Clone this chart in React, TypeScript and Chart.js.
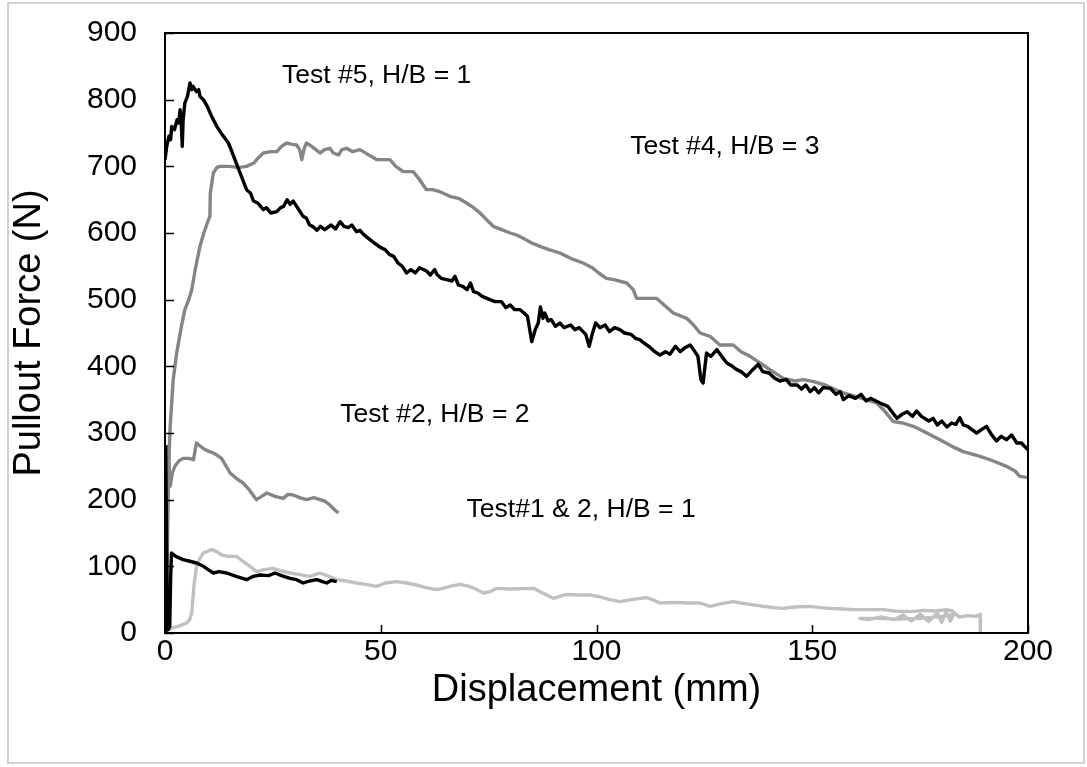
import { useEffect, useRef } from 'react';
import { Chart, registerables } from 'chart.js';

Chart.register(...registerables);

const xTickValues = [0, 50, 100, 150, 200];
const yTickValues = [0, 100, 200, 300, 400, 500, 600, 700, 800, 900];

// Test #5, H/B = 1 (black)
const test5: [number, number][] = [
  [0, 710], [0.4, 730], [0.9, 745], [1.3, 740], [1.55, 760], [2.2, 755], [2.8, 770], [3.2, 765], [3.5, 785], [3.8, 760], [4.0, 730], [4.2, 770],
  [4.6, 795], [5.2, 805], [5.8, 825], [6.2, 815], [6.5, 820], [7.3, 812], [7.8, 815], [8.1, 805], [8.9, 800], [9.8, 790], [10.8, 775], [12, 760],
  [13.2, 748], [14.7, 735], [15.5, 722], [16.2, 710], [17.4, 690], [18.9, 665], [19.8, 660], [20.5, 648], [21.5, 645], [22.8, 635], [23.5, 638], [24.5, 630], [25.9, 632], [26.8, 638], [27.5, 640],
  [28.3, 650], [29, 643], [29.7, 648], [30.5, 640], [31.2, 633], [32, 625], [32.8, 622], [33.5, 612], [34.2, 610], [35.2, 604], [36, 610], [37, 605], [38.5, 612], [39.5, 606], [40.6, 617], [41.5, 610], [42.5, 608], [43.3, 612], [44.4, 602],
  [45.2, 604], [46, 598], [47.5, 590], [48.5, 585], [50, 578], [51, 575], [52, 568], [53, 565], [54, 555], [55, 550], [56, 540], [57, 545], [58, 540], [59, 548], [60.6, 543], [61.5, 537], [62.5, 545], [63, 538], [64, 532], [65.3, 530],
  [66.5, 528], [67.2, 535], [68, 522], [69, 520], [70, 515], [70.8, 525], [71.5, 512], [72.5, 510], [73.5, 505], [75.3, 500], [76.5, 497], [78, 497], [79, 488], [80, 492], [81, 485], [82.3, 485], [83.2, 480], [84, 475], [85, 437], [85.8, 455],
  [86.5, 465], [87, 489], [87.6, 472], [88, 480], [88.8, 468], [89.5, 470], [90.5, 460], [91.5, 465], [92.5, 458], [94, 462], [95, 455], [96, 458], [97.5, 448], [98.3, 430], [99, 448], [99.8, 465], [100.8, 458],
  [102, 462], [103, 452], [104.2, 458], [105.4, 455], [106.5, 450], [108, 448], [109, 442], [110, 440], [111, 435], [112.5, 428], [113.5, 422], [114.7, 417], [116, 422], [117, 418], [118.3, 430], [119.4, 422], [120.5, 428], [121.7, 432], [122.5, 425], [123.5, 415],
  [124.2, 380], [124.7, 375], [125.5, 420], [126.5, 415], [127.9, 425], [129, 415], [130.2, 405], [131.5, 400], [132.5, 395], [133.5, 392], [134.8, 385], [136.2, 395], [137.5, 403], [138.5, 392], [140, 390], [141.3, 382], [142.5, 378],
  [144, 380], [145, 372], [146.5, 372], [147.5, 366], [148.5, 372], [149.5, 362], [150.5, 368], [151.5, 360], [152.5, 368], [154.2, 367], [155.5, 358], [156.5, 362], [157.2, 350], [158.5, 356], [160, 352], [161.3, 358], [162.5, 348], [163.5, 352], [165.7, 345], [167.5, 340], [169.6, 322],
  [170.8, 328], [172, 332], [173.2, 325], [174.2, 333], [175.3, 325], [177, 318], [178, 322], [179, 312], [180, 318], [181.2, 309], [182.3, 315], [183.3, 313], [184.2, 323], [185, 312], [186, 310], [187, 305], [188.1, 300], [189.2, 305], [190.4, 310], [191.5, 298], [192.7, 288],
  [193.8, 295], [195, 290], [196.2, 297], [197.4, 285], [198.5, 285], [199.2, 280], [200, 275],
];

// Test #4, H/B = 3 (medium grey)
const test4: [number, number][] = [
  [0.4, 0], [0.6, 150], [0.9, 260], [1.2, 310], [1.6, 350], [1.9, 380], [2.7, 420], [3.8, 460], [4.6, 485], [5.5, 500],
  [6.2, 515], [7, 545], [8.1, 580], [9.0, 600], [9.8, 615], [10.4, 625], [10.5, 660], [11.2, 690], [12, 698], [12.7, 700],
  [15, 700], [17, 698], [18.9, 700], [20.6, 705], [21.5, 712], [22.8, 720], [24.5, 722], [25.9, 722], [27, 730], [28.2, 735],
  [29.5, 733], [30.5, 732], [31.2, 725], [31.7, 710], [32.3, 728], [32.8, 735], [34, 730], [35.9, 720], [37, 725], [38.2, 727],
  [39, 720], [40.2, 717], [41, 725], [42.1, 727], [43.5, 722], [45.2, 725], [47, 718], [49.1, 710], [52.1, 710], [53.5, 700],
  [55.2, 692], [57.5, 692], [59, 680], [60.6, 665], [62, 665], [63.7, 662], [66, 655], [68, 652], [69.9, 645], [71.5, 638],
  [73, 630], [74.5, 620], [76.1, 610], [78, 605], [80, 600], [81.5, 597], [83, 592], [85, 585], [86.9, 580], [89, 575],
  [91.5, 570], [94, 562], [96.9, 555], [99, 548], [100.5, 540], [102.3, 532], [104, 530], [107, 525], [108.5, 515], [109.3, 502],
  [113.9, 502], [116, 490], [117.8, 480], [120.9, 472], [122.5, 462], [124, 450], [126.3, 445], [128.6, 432], [131.7, 432], [133.5, 422],
  [135.6, 415], [137.9, 405], [140.2, 395], [143.3, 382], [146, 378], [148, 380], [150.3, 377], [153, 372], [157.2, 360], [160, 355],
  [162.5, 350], [164.9, 345], [166.5, 335], [168.8, 317], [171, 315], [173.4, 310], [176, 302], [178, 295], [181, 285], [183, 278],
  [185, 272], [188.9, 265], [192, 258], [195, 250], [197, 243], [198.1, 235], [200, 233],
];

// Test #2, H/B = 2 (medium grey)
const test2hb2: [number, number][] = [
  [0.2, 0], [0.35, 150], [0.5, 270], [0.8, 280], [1.0, 240], [1.2, 220], [1.7, 240], [2.3, 250], [3.2, 258], [4.2, 262],
  [5.5, 262], [6.6, 260], [7.0, 275], [7.3, 285], [8.2, 280], [9.3, 275], [10.3, 272], [11.2, 270], [12.2, 266], [13.1, 262],
  [14, 252], [15.1, 240], [16.5, 232], [18.1, 225], [19.5, 215], [21.2, 200], [22.4, 205], [23.6, 210], [25.5, 205], [27.4, 202],
  [28.5, 208], [29.7, 207], [31.2, 203], [32.8, 200], [34.5, 203], [35.9, 200], [37, 198], [38.2, 192], [39.3, 185], [40.2, 180],
];

// Test #1, H/B = 1 (black, short)
const test1hb1: [number, number][] = [
  [0, 0], [0.1, 200], [0.2, 280], [0.35, 150], [0.5, 40], [0.8, 5], [1.1, 10], [1.3, 80], [1.5, 120], [2.5, 115],
  [4.2, 110], [5.5, 108], [7.3, 105], [8.9, 100], [10, 95], [11.2, 90], [12.5, 92], [14.3, 90], [16.5, 85], [18.9, 80],
  [20.5, 85], [22, 87], [24, 86], [25.5, 90], [27, 86], [29, 82], [30.5, 80], [32, 75], [33.5, 78], [35.2, 80],
  [36.5, 77], [37.5, 75], [38.5, 79], [39.8, 77],
];

// Test #2, H/B = 1 (light grey, long)
const test2hb1: [number, number][] = [
  [1.2, 7], [3, 10], [5, 15], [5.7, 20], [6.2, 30], [6.7, 70], [7.3, 100], [8.1, 112], [8.9, 120], [10.8, 125],
  [12, 122], [13.1, 117], [14.8, 115], [16.6, 115], [18, 108], [19.7, 100], [21.2, 92], [23, 95], [25.1, 97], [27, 93],
  [29, 90], [31, 88], [33.6, 85], [35.9, 90], [38, 85], [39.8, 80], [42, 78], [44.4, 75], [46.5, 73], [49.1, 70],
  [51, 75], [53.7, 77], [56, 75], [58.3, 72], [60.5, 68], [63, 65], [65, 68], [66, 70], [68.4, 73], [70.5, 70],
  [72, 66], [73.8, 60], [75.3, 62], [76.9, 67], [80, 66], [85.4, 67], [87.5, 60], [90, 52], [91.5, 55], [93.1, 58],
  [96, 57], [98.5, 57], [101, 54], [103, 50], [105.4, 47], [108, 50], [111.6, 53], [113, 50], [114.7, 45], [118, 46],
  [121, 45], [124, 45], [126.3, 40], [129, 44], [131.7, 47], [133.5, 45], [135.6, 43], [138.7, 40], [141, 38], [143.3, 37],
  [146, 39], [149.5, 40], [152, 38], [154.1, 37], [157, 36], [159.5, 35], [163, 35], [166.5, 35], [169, 33], [172.6, 32],
  [176, 34], [178.5, 33], [181.1, 35], [182.5, 33], [183, 28], [180, 25], [175, 22], [170, 21], [165, 22], [161, 22],
  [163, 20], [166, 24], [169, 20], [171, 27], [173, 18], [175, 28], [177, 17], [179, 30], [180, 16], [181, 32],
  [182, 18], [183, 30], [184, 24], [186, 26], [188, 25], [188.9, 28], [188.9, 12], [189, 0],
];

const seriesList = [
  { name: 'Test #5, H/B = 1', points: test5, color: '#000000' },
  { name: 'Test #1, H/B = 1', points: test1hb1, color: '#000000' },
  { name: 'Test #2, H/B = 1', points: test2hb1, color: '#c0c0c0' },
  { name: 'Test #4, H/B = 3', points: test4, color: '#858585' },
  { name: 'Test #2, H/B = 2', points: test2hb2, color: '#858585' },
];

const annotationTexts = ['Test #5, H/B = 1', 'Test #4, H/B = 3', 'Test #2, H/B = 2', 'Test#1 & 2, H/B = 1'];
const annotationAnchors: [number, number][] = [[27.1, 836], [107.8, 729], [40.6, 327], [69.9, 185]];

const FONT = "'Liberation Sans', Arial, sans-serif";

export default function App() {
  const ref = useRef<HTMLCanvasElement>(null);

  useEffect(() => {
    const canvas = ref.current;
    if (!canvas) return;

    const framePlugin = {
      id: 'framePlugin',
      beforeDraw(chart: any) {
        const c = chart.ctx;
        c.save();
        c.fillStyle = '#ffffff';
        c.fillRect(0, 0, chart.width, chart.height);
        c.strokeStyle = '#d0d0d0';
        c.lineWidth = 2;
        c.strokeRect(8, 3, 1076, 760);
        c.restore();
      },
      afterDatasetsDraw(chart: any) {
        const c = chart.ctx;
        const { left, top, right, bottom } = chart.chartArea;
        const xs = chart.scales.x;
        const ys = chart.scales.y;
        c.save();
        c.strokeStyle = '#000000';
        c.lineWidth = 2;
        c.strokeRect(left, top, right - left, bottom - top);
        c.lineWidth = 1.5;
        c.beginPath();
        yTickValues.forEach((v) => {
          const py = Math.round(ys.getPixelForValue(v)) + 0.5;
          c.moveTo(left, py);
          c.lineTo(left + 9, py);
        });
        xTickValues.forEach((v) => {
          const px = Math.round(xs.getPixelForValue(v)) + 0.5;
          c.moveTo(px, bottom);
          c.lineTo(px, bottom - 8);
        });
        c.stroke();
        c.fillStyle = '#000000';
        c.font = `26.5px ${FONT}`;
        c.textAlign = 'left';
        c.textBaseline = 'middle';
        annotationTexts.forEach((t, i) => {
          const [ax, ay] = annotationAnchors[i];
          c.fillText(t, xs.getPixelForValue(ax), ys.getPixelForValue(ay));
        });
        c.restore();
      },
    };

    const chart = new Chart(canvas, {
      type: 'scatter',
      data: {
        datasets: seriesList.map((s) => ({
          label: s.name,
          data: s.points.map(([x, y]) => ({ x, y })),
          showLine: true,
          borderColor: s.color,
          backgroundColor: s.color,
          borderWidth: 3.4,
          borderJoinStyle: 'round' as const,
          pointRadius: 0,
          pointHoverRadius: 0,
          tension: 0,
          fill: false,
        })),
      },
      options: {
        animation: false,
        responsive: false,
        layout: { padding: { left: 0, top: 33, right: 59, bottom: 0 } },
        plugins: {
          legend: { display: false },
          tooltip: { enabled: false },
        },
        scales: {
          x: {
            type: 'linear',
            min: 0,
            max: 200,
            afterFit: (s: any) => { s.height = 134; s.paddingLeft = 0; s.paddingRight = 0; },
            afterBuildTicks: (s: any) => { s.ticks = xTickValues.map((v) => ({ value: v })); },
            grid: { display: false, drawTicks: false, tickLength: 0 },
            border: { display: false },
            ticks: { color: '#000000', font: { family: FONT, size: 30 }, padding: 1, maxRotation: 0 },
            title: {
              display: true,
              text: 'Displacement (mm)',
              color: '#000000',
              font: { family: FONT, size: 38 },
              padding: { top: 0, bottom: 54 },
            },
          },
          y: {
            type: 'linear',
            min: 0,
            max: 900,
            afterFit: (s: any) => { s.width = 165; s.paddingTop = 0; s.paddingBottom = 0; },
            afterBuildTicks: (s: any) => { s.ticks = yTickValues.map((v) => ({ value: v })); },
            grid: { display: false, drawTicks: false, tickLength: 0 },
            border: { display: false },
            ticks: { color: '#000000', font: { family: FONT, size: 30 }, padding: 28 },
            title: {
              display: true,
              text: 'Pullout Force (N)',
              color: '#000000',
              font: { family: FONT, size: 38 },
              padding: { top: 7, bottom: 0 },
            },
          },
        },
      },
      plugins: [framePlugin],
    });

    return () => chart.destroy();
  }, []);

  return (
    <div style={{ position: 'absolute', left: 0, top: 0, width: 1087, height: 767 }}>
      <canvas ref={ref} width={1087} height={767} style={{ display: 'block', width: 1087, height: 767 }} />
    </div>
  );
}
